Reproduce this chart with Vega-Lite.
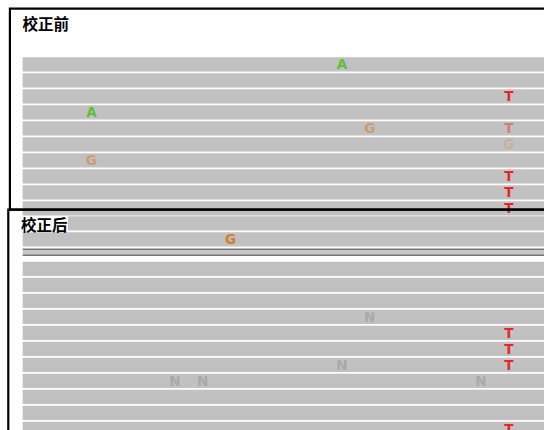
{
  "$schema": "https://vega.github.io/schema/vega-lite/v6.json",
  "autosize": {"type": "fit", "contains": "padding"},
  "width": 544,
  "height": 430,
  "padding": 0,
  "background": "white",
  "config": {"view": {"stroke": null}},
  "datasets": {
    "reads": [
      {"panel": "校正前", "track": 0, "start": 97.53, "end": 118},
      {"panel": "校正前", "track": 1, "start": 97.53, "end": 118},
      {"panel": "校正前", "track": 2, "start": 97.53, "end": 118},
      {"panel": "校正前", "track": 3, "start": 97.53, "end": 118},
      {"panel": "校正前", "track": 4, "start": 97.53, "end": 118},
      {"panel": "校正前", "track": 5, "start": 97.53, "end": 118},
      {"panel": "校正前", "track": 6, "start": 97.53, "end": 118},
      {"panel": "校正前", "track": 7, "start": 97.53, "end": 118},
      {"panel": "校正前", "track": 8, "start": 97.53, "end": 118},
      {"panel": "校正前", "track": 9, "start": 97.53, "end": 118},
      {"panel": "校正后", "track": 9.928, "start": 99.16, "end": 118},
      {"panel": "校正后", "track": 10.9375, "start": 97.53, "end": 118},
      {"panel": "校正后", "track": 12.775, "start": 97.53, "end": 118},
      {"panel": "校正后", "track": 13.775, "start": 97.53, "end": 118},
      {"panel": "校正后", "track": 14.775, "start": 97.53, "end": 118},
      {"panel": "校正后", "track": 15.775, "start": 97.53, "end": 118},
      {"panel": "校正后", "track": 16.775, "start": 97.53, "end": 118},
      {"panel": "校正后", "track": 17.775, "start": 97.53, "end": 118},
      {"panel": "校正后", "track": 18.775, "start": 97.53, "end": 118},
      {"panel": "校正后", "track": 19.775, "start": 97.53, "end": 118},
      {"panel": "校正后", "track": 20.775, "start": 97.53, "end": 118},
      {"panel": "校正后", "track": 21.775, "start": 97.53, "end": 118},
      {"panel": "校正后", "track": 22.775, "start": 97.53, "end": 118}
    ],
    "separator": [
      {"start": 97.53, "end": 118, "top": 11.553, "bottom": 11.922}
    ],
    "bases": [
      {"panel": "校正前", "track": 0, "pos": 109, "base": "A", "qual": 40},
      {"panel": "校正前", "track": 2, "pos": 115, "base": "T", "qual": 40},
      {"panel": "校正前", "track": 3, "pos": 100, "base": "A", "qual": 40},
      {"panel": "校正前", "track": 4, "pos": 110, "base": "G", "qual": 22},
      {"panel": "校正前", "track": 4, "pos": 115, "base": "T", "qual": 17},
      {"panel": "校正前", "track": 5, "pos": 115, "base": "G", "qual": 9},
      {"panel": "校正前", "track": 6, "pos": 100, "base": "G", "qual": 22},
      {"panel": "校正前", "track": 7, "pos": 115, "base": "T", "qual": 40},
      {"panel": "校正前", "track": 8, "pos": 115, "base": "T", "qual": 40},
      {"panel": "校正前", "track": 9, "pos": 115, "base": "T", "qual": 40},
      {"panel": "校正后", "track": 10.9375, "pos": 105, "base": "G", "qual": 40},
      {"panel": "校正后", "track": 15.775, "pos": 110, "base": "N", "qual": 40},
      {"panel": "校正后", "track": 16.775, "pos": 115, "base": "T", "qual": 40},
      {"panel": "校正后", "track": 17.775, "pos": 115, "base": "T", "qual": 40},
      {"panel": "校正后", "track": 18.775, "pos": 109, "base": "N", "qual": 40},
      {"panel": "校正后", "track": 18.775, "pos": 115, "base": "T", "qual": 40},
      {"panel": "校正后", "track": 19.775, "pos": 103, "base": "N", "qual": 40},
      {"panel": "校正后", "track": 19.775, "pos": 104, "base": "N", "qual": 40},
      {"panel": "校正后", "track": 19.775, "pos": 114, "base": "N", "qual": 40},
      {"panel": "校正后", "track": 22.775, "pos": 115, "base": "T", "qual": 40}
    ],
    "panels": [
      {"title": "校正前", "left": 97.072, "top": -3.484, "right": 118, "bottom": 9.072},
      {"title": "校正后", "left": 97.014, "top": 9.072, "right": 118, "bottom": 25}
    ]
  },
  "layer": [
    {
      "data": {"name": "reads"},
      "mark": {"type": "rule", "strokeWidth": 14.3, "strokeCap": "butt", "color": "#c1c1c1", "clip": true},
      "encoding": {
        "x": {"field": "start", "type": "quantitative", "scale": {"domain": [96.716, 116.263], "nice": false, "zero": false}, "axis": null},
        "x2": {"field": "end"},
        "y": {"field": "track", "type": "quantitative", "scale": {"domain": [-4.028, 22.847], "reverse": true, "nice": false, "zero": false}, "axis": null}
      }
    },
    {
      "data": {"name": "separator"},
      "mark": {"type": "rect", "color": "#c8c8c8", "clip": true},
      "encoding": {
        "x": {"field": "start", "type": "quantitative", "scale": {"domain": [96.716, 116.263], "nice": false, "zero": false}, "axis": null},
        "x2": {"field": "end"},
        "y": {"field": "top", "type": "quantitative", "scale": {"domain": [-4.028, 22.847], "reverse": true, "nice": false, "zero": false}, "axis": null},
        "y2": {"field": "bottom"}
      }
    },
    {
      "data": {"name": "separator"},
      "mark": {"type": "rule", "strokeWidth": 1.6, "color": "#767676", "clip": true},
      "encoding": {
        "x": {"field": "start", "type": "quantitative", "scale": {"domain": [96.716, 116.263], "nice": false, "zero": false}, "axis": null},
        "x2": {"field": "end"},
        "y": {"field": "top", "type": "quantitative", "scale": {"domain": [-4.028, 22.847], "reverse": true, "nice": false, "zero": false}, "axis": null}
      }
    },
    {
      "data": {"name": "separator"},
      "mark": {"type": "rule", "strokeWidth": 1.6, "color": "#767676", "clip": true},
      "encoding": {
        "x": {"field": "start", "type": "quantitative", "scale": {"domain": [96.716, 116.263], "nice": false, "zero": false}, "axis": null},
        "x2": {"field": "end"},
        "y": {"field": "bottom", "type": "quantitative", "scale": {"domain": [-4.028, 22.847], "reverse": true, "nice": false, "zero": false}, "axis": null}
      }
    },
    {
      "data": {"name": "bases"},
      "mark": {"type": "text", "font": "DejaVu Sans", "fontWeight": "bold", "fontSize": 13.5, "align": "center", "baseline": "alphabetic", "dy": 4.9, "clip": true},
      "encoding": {
        "x": {"field": "pos", "type": "quantitative", "scale": {"domain": [96.716, 116.263], "nice": false, "zero": false}, "axis": null},
        "y": {"field": "track", "type": "quantitative", "scale": {"domain": [-4.028, 22.847], "reverse": true, "nice": false, "zero": false}, "axis": null},
        "text": {"field": "base"},
        "color": {"field": "base", "type": "nominal", "scale": {"domain": ["A", "C", "G", "T", "N"], "range": ["#5fbe3c", "#1f4fd8", "#d2802f", "#e8252a", "#a9a9a9"]}, "legend": null},
        "opacity": {"field": "qual", "type": "quantitative", "scale": {"domain": [0, 40], "range": [0, 1]}, "legend": null}
      }
    },
    {
      "data": {"name": "panels"},
      "mark": {"type": "rect", "filled": false, "stroke": "black", "strokeWidth": 2.2, "clip": true},
      "encoding": {
        "x": {"field": "left", "type": "quantitative", "scale": {"domain": [96.716, 116.263], "nice": false, "zero": false}, "axis": null},
        "x2": {"field": "right"},
        "y": {"field": "top", "type": "quantitative", "scale": {"domain": [-4.028, 22.847], "reverse": true, "nice": false, "zero": false}, "axis": null},
        "y2": {"field": "bottom"}
      }
    },
    {
      "data": {"name": "panels"},
      "mark": {"type": "text", "font": "Noto Sans CJK SC", "fontWeight": "bold", "fontSize": 15.5, "align": "left", "baseline": "alphabetic", "dx": 12.6, "dy": 21.2, "color": "black"},
      "encoding": {
        "x": {"field": "left", "type": "quantitative", "scale": {"domain": [96.716, 116.263], "nice": false, "zero": false}, "axis": null},
        "y": {"field": "top", "type": "quantitative", "scale": {"domain": [-4.028, 22.847], "reverse": true, "nice": false, "zero": false}, "axis": null},
        "text": {"field": "title"}
      }
    }
  ]
}
